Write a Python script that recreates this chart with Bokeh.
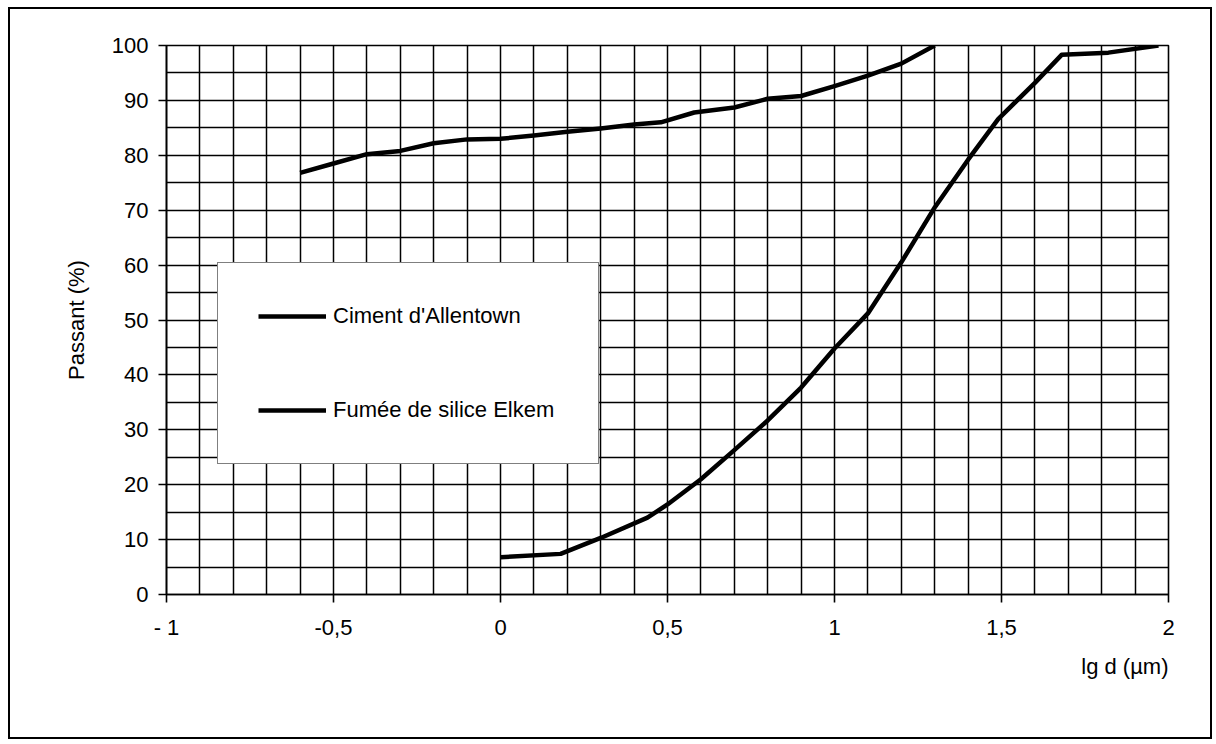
from bokeh.plotting import figure
from bokeh.models import (ColumnDataSource, Legend, LegendItem, FixedTicker,
                          SingleIntervalTicker, Range1d, Title)
from bokeh.embed import file_html
from bokeh.resources import INLINE

# ---- data ----
ciment_lgd = [0.0, 0.18, 0.30, 0.44, 0.50, 0.60, 0.70, 0.80, 0.90, 1.00,
              1.10, 1.20, 1.30, 1.40, 1.49, 1.60, 1.68, 1.82, 1.97]
ciment_pass = [6.8, 7.4, 10.3, 14.0, 16.4, 21.0, 26.3, 31.7, 37.7, 44.8,
               51.2, 60.5, 70.5, 79.2, 86.6, 93.2, 98.3, 98.7, 100.0]

silice_lgd = [-0.60, -0.50, -0.40, -0.30, -0.20, -0.10, 0.00, 0.10, 0.20,
              0.30, 0.40, 0.48, 0.58, 0.70, 0.80, 0.90, 1.00, 1.10, 1.20, 1.30]
silice_pass = [76.8, 78.5, 80.2, 80.8, 82.2, 82.9, 83.0, 83.6, 84.3,
               84.9, 85.6, 86.0, 87.8, 88.7, 90.3, 90.8, 92.6, 94.5, 96.7, 100.0]

x_ticks = [-1.0, -0.5, 0.0, 0.5, 1.0, 1.5, 2.0]
x_tick_labels = ["- 1", "-0,5", "0", "0,5", "1", "1,5", "2"]
y_ticks = [0, 10, 20, 30, 40, 50, 60, 70, 80, 90, 100]

series_names = ["Ciment d'Allentown", "Fumée de silice Elkem"]
x_title = "lg d (µm)"
y_title = "Passant (%)"

FONT = "Liberation Sans"

p = figure(width=1204, height=732, output_backend="svg", toolbar_location=None,
           x_range=Range1d(-1, 2), y_range=Range1d(0, 100),
           min_border_left=156, min_border_right=46,
           min_border_top=36, min_border_bottom=147,
           background_fill_color="white", border_fill_color="white",
           styles={"border": "2px solid black", "margin-left": "8px",
                   "margin-top": "7px"})

p.outline_line_color = "black"
p.outline_line_width = 1.6

# grid
p.xgrid.ticker = SingleIntervalTicker(interval=0.1, num_minor_ticks=0)
p.ygrid.ticker = SingleIntervalTicker(interval=5, num_minor_ticks=0)
for g in (p.xgrid, p.ygrid):
    g.grid_line_color = "black"
    g.grid_line_width = 1.5
    g.grid_line_alpha = 1.0

# axes
p.xaxis.ticker = FixedTicker(ticks=x_ticks)
p.xaxis.major_label_overrides = {t: l for t, l in zip(x_ticks, x_tick_labels)}
p.yaxis.ticker = FixedTicker(ticks=y_ticks)
for ax in (p.xaxis, p.yaxis):
    ax.axis_line_color = "black"
    ax.axis_line_width = 1.6
    ax.major_tick_line_color = "black"
    ax.major_tick_line_width = 1.6
    ax.major_tick_in = 0
    ax.major_tick_out = 8
    ax.minor_tick_line_color = None
    ax.major_label_text_font = FONT
    ax.major_label_text_font_size = "22px"
    ax.major_label_text_color = "black"
    ax.axis_label_text_font = FONT
    ax.axis_label_text_font_size = "22px"
    ax.axis_label_text_font_style = "normal"
    ax.axis_label_text_color = "black"

p.xaxis.major_label_standoff = 12
p.yaxis.major_label_standoff = 10
p.yaxis.axis_label = y_title
p.yaxis.axis_label_standoff = 20

# x-axis title, right-aligned under the axis
xt = Title(text=x_title, align="right", text_font=FONT,
           text_font_size="22px", text_font_style="normal",
           text_color="black", standoff=18)
p.add_layout(xt, "below")

# curves
src_c = ColumnDataSource(dict(x=ciment_lgd, y=ciment_pass))
src_s = ColumnDataSource(dict(x=silice_lgd, y=silice_pass))
r_c = p.line("x", "y", source=src_c, line_color="black", line_width=4.5,
             line_join="round")
r_s = p.line("x", "y", source=src_s, line_color="black", line_width=4.5,
             line_join="round")

legend = Legend(items=[LegendItem(label=series_names[0], renderers=[r_c]),
                       LegendItem(label=series_names[1], renderers=[r_s])],
                location=(51, 130), orientation="vertical",
                padding=40, margin=0, spacing=68,
                glyph_width=68, glyph_height=24, label_height=24,
                label_width=225, label_standoff=7,
                label_text_font=FONT, label_text_font_size="22px",
                label_text_color="black",
                border_line_color="black", border_line_width=1.6,
                background_fill_color="white", background_fill_alpha=1.0)
p.add_layout(legend, "center")

open("out.html", "w").write(file_html(p, INLINE))
